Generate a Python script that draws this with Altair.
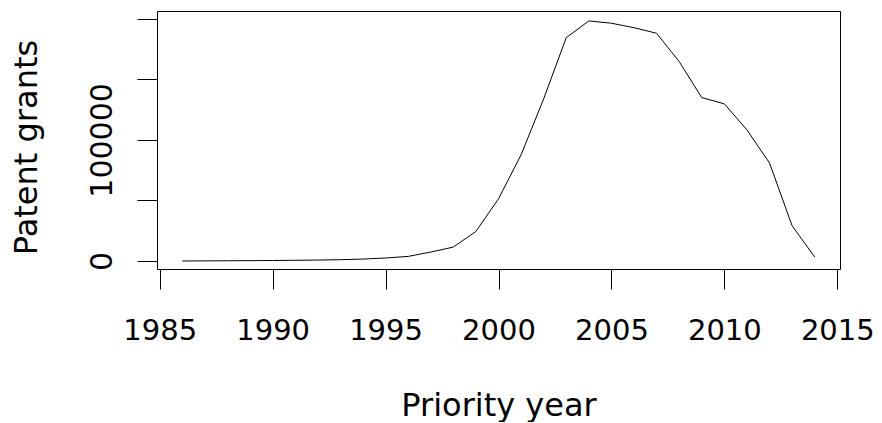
import altair as alt
import pandas as pd

years = list(range(1986, 2015))
grants = [0, 100, 200, 300, 400, 600, 800, 1100, 1600, 2500, 3800, 7400, 11500, 24400,
          51400, 87700, 134000, 184500, 198300, 196400, 192700, 188100, 164700, 135000,
          129800, 108300, 80900, 29100, 3300]
x_ticks = [1985, 1990, 1995, 2000, 2005, 2010, 2015]
y_ticks = [0, 50000, 100000, 150000, 200000]
y_labeled = [0, 100000]

df = pd.DataFrame({"year": years, "grants": grants})

FONT = "DejaVu Sans"
FS = 30
XFS = 29
TFS = 32

chart = alt.Chart(df).mark_line(color="black", strokeWidth=1).encode(
    x=alt.X("year:Q",
            scale=alt.Scale(domain=[1984.88, 2015.12], nice=False, zero=False),
            axis=alt.Axis(values=x_ticks, format="d", title="Priority year",
                          domain=False, grid=False, tickColor="black", tickSize=20,
                          labelFont=FONT, labelFontSize=XFS, labelColor="black",
                          labelPadding=50, labelBaseline="alphabetic",
                          labelFlush=False, labelOverlap=False, labelBound=False,
                          titleFont=FONT, titleFontSize=TFS, titleFontWeight="normal",
                          titleColor="black", titleBaseline="alphabetic",
                          titleY=146, titleAnchor="middle")),
    y=alt.Y("grants:Q",
            scale=alt.Scale(domain=[-6600, 206500], nice=False, zero=False),
            axis=alt.Axis(values=y_ticks, format="d", title="Patent grants",
                          labelExpr="(datum.value == 0 || datum.value == 100000) ? datum.label : ''",
                          domain=False, grid=False, tickColor="black", tickSize=20,
                          labelFont=FONT, labelFontSize=FS, labelColor="black",
                          labelAngle=-90, labelAlign="center", labelBaseline="alphabetic",
                          labelPadding=26, labelOverlap=False, labelFlush=False, labelBound=False,
                          titleFont=FONT, titleFontSize=TFS, titleFontWeight="normal",
                          titleColor="black", titleAngle=-90, titleBaseline="alphabetic",
                          titleX=-121, titleY=136, titleAnchor="middle")),
).properties(
    width=683, height=258,
    autosize=alt.AutoSizeParams(type="none"),
    padding={"left": 149, "top": 3, "right": 34, "bottom": 153},
).configure(
    background="white",
    view=alt.ViewConfig(stroke="black", strokeWidth=1, fill="white"),
)

chart.save("out.html", embed_options={"renderer": "svg", "actions": False})
